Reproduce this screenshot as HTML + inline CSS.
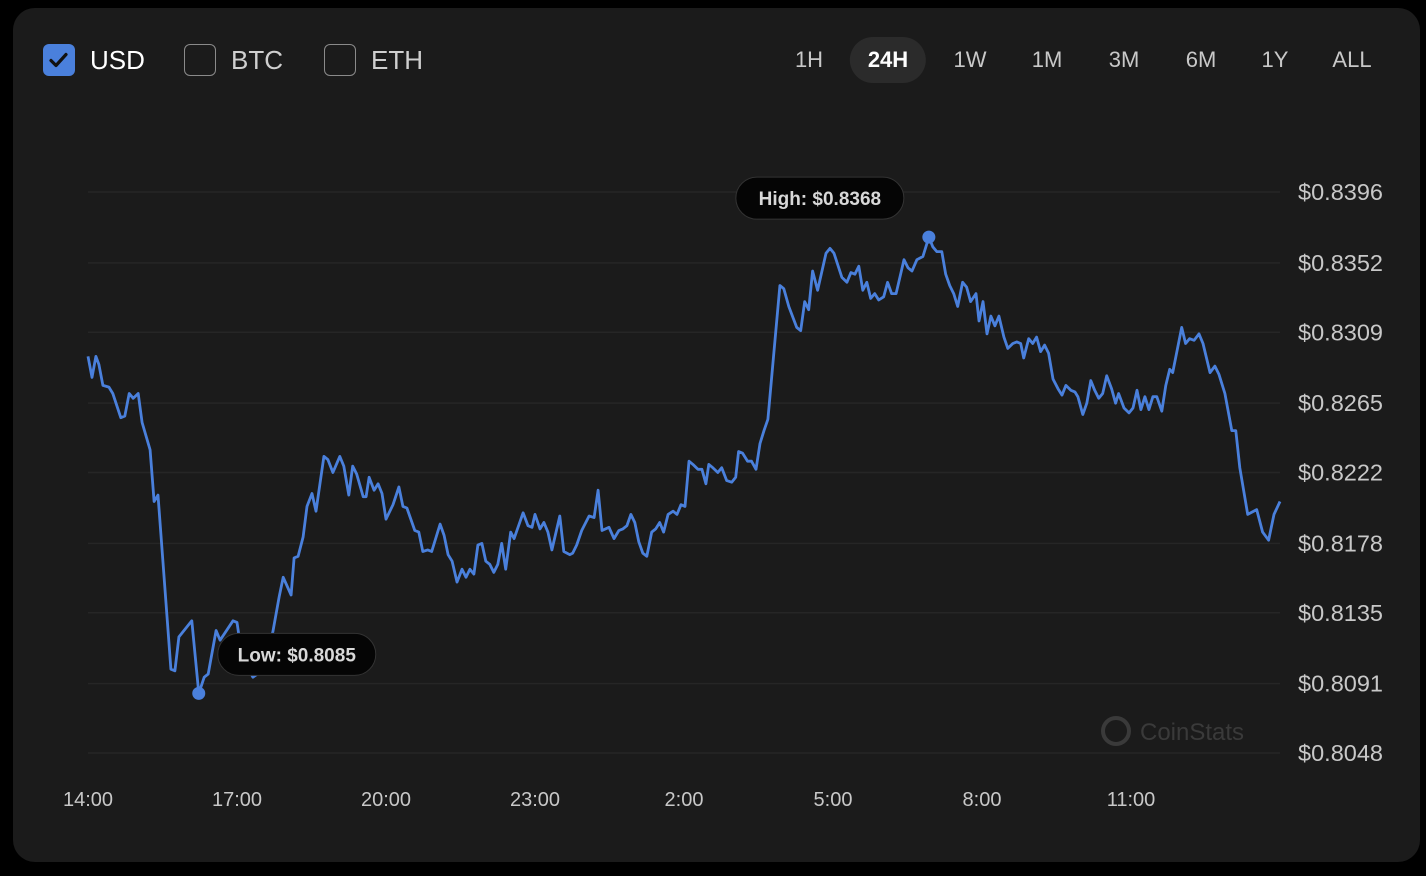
<!DOCTYPE html>
<html><head><meta charset="utf-8"><style>
html,body{margin:0;padding:0;background:#000;width:1426px;height:876px;overflow:hidden;font-family:"Liberation Sans",sans-serif}
#card{position:absolute;left:13px;top:8px;width:1407px;height:854px;background:#1b1b1b;border-radius:22px}
.cb{position:absolute;top:44px;width:30px;height:30px;border:1.5px solid #8a8a8a;border-radius:6px;box-sizing:border-box}
.cbl{position:absolute;top:44px;font-size:26px;color:#cfcfcf;line-height:32px}
.tb{position:absolute;top:37px;height:46px;line-height:46px;font-size:22px;color:#c8c8c8;text-align:center;transform:translateX(-50%);padding:0 18px;border-radius:23px}
</style></head><body>
<div id="card"></div>
<div class="cb" style="left:43px;background:#4a80dc;border:none;width:32px;height:32px">
<svg width="32" height="32" viewBox="0 0 32 32"><path d="M8 16.5l5 5 10-11" stroke="#111" stroke-width="3.2" fill="none" stroke-linecap="round" stroke-linejoin="round"/></svg></div>
<div class="cbl" style="left:90px;color:#fff">USD</div>
<div class="cb" style="left:184px;width:32px;height:32px"></div>
<div class="cbl" style="left:231px">BTC</div>
<div class="cb" style="left:324px;width:32px;height:32px"></div>
<div class="cbl" style="left:371px">ETH</div>
<div class="tb" style="left:809px">1H</div>
<div class="tb" style="left:888px;background:#2b2b2b;color:#fff;font-weight:bold">24H</div>
<div class="tb" style="left:970px">1W</div>
<div class="tb" style="left:1047px">1M</div>
<div class="tb" style="left:1124px">3M</div>
<div class="tb" style="left:1201px">6M</div>
<div class="tb" style="left:1275px">1Y</div>
<div class="tb" style="left:1352px">ALL</div>
<svg id="chart" width="1426" height="876" style="position:absolute;left:0;top:0">
<g>
<circle cx="1116" cy="731" r="13" fill="none" stroke="#3a3a3a" stroke-width="4"/>
<text x="1140" y="740" fill="#3a3a3a" font-size="24" font-family="Liberation Sans">CoinStats</text></g>
</svg>
<script>
const times=[0,0.08,0.16,0.22,0.30,0.42,0.50,0.66,0.74,0.83,0.91,1.01,1.09,1.25,1.33,1.41,1.67,1.75,1.83,2.09,2.23,2.34,2.42,2.58,2.66,2.92,3.00,3.10,3.32,3.46,3.72,3.85,3.93,4.09,4.15,4.23,4.33,4.41,4.51,4.59,4.75,4.83,4.93,5.07,5.15,5.25,5.33,5.41,5.54,5.60,5.66,5.76,5.84,5.92,6.00,6.14,6.26,6.34,6.42,6.58,6.66,6.74,6.84,6.92,7.09,7.17,7.25,7.33,7.43,7.53,7.61,7.69,7.77,7.85,7.93,8.01,8.09,8.17,8.25,8.33,8.41,8.51,8.58,8.76,8.86,8.94,9.00,9.10,9.18,9.26,9.34,9.50,9.58,9.70,9.76,9.84,9.94,10.09,10.19,10.27,10.35,10.49,10.59,10.69,10.77,10.85,10.93,11.01,11.09,11.17,11.25,11.35,11.43,11.51,11.59,11.68,11.78,11.86,11.94,12.02,12.10,12.18,12.28,12.36,12.44,12.50,12.58,12.68,12.76,12.86,12.96,13.04,13.10,13.18,13.28,13.36,13.45,13.53,13.61,13.69,13.93,14.01,14.11,14.27,14.35,14.43,14.51,14.59,14.69,14.86,14.94,15.02,15.18,15.28,15.36,15.44,15.52,15.60,15.68,15.76,15.84,15.92,16.02,16.10,16.18,16.27,16.43,16.51,16.59,16.69,16.81,16.93,17.01,17.09,17.19,17.27,17.35,17.43,17.51,17.61,17.69,17.77,17.88,17.94,18.02,18.10,18.18,18.26,18.34,18.44,18.52,18.62,18.70,18.78,18.84,18.94,19.02,19.10,19.18,19.26,19.34,19.43,19.53,19.61,19.69,19.79,19.87,19.93,20.03,20.11,20.19,20.27,20.35,20.43,20.51,20.61,20.69,20.75,20.86,20.96,21.04,21.12,21.20,21.28,21.36,21.44,21.52,21.62,21.70,21.78,21.84,22.02,22.10,22.18,22.27,22.37,22.45,22.59,22.69,22.77,22.89,23.03,23.11,23.19,23.35,23.53,23.65,23.77,23.88,24.00];
const prices=[0.8294,0.8281,0.8294,0.8289,0.8276,0.8275,0.8271,0.8256,0.8257,0.8271,0.8268,0.8271,0.8253,0.8236,0.8204,0.8208,0.8100,0.8099,0.8120,0.8130,0.8085,0.8095,0.8097,0.8124,0.8118,0.8130,0.8129,0.8108,0.8095,0.8098,0.8123,0.8145,0.8157,0.8146,0.8169,0.8170,0.8182,0.8201,0.8209,0.8198,0.8232,0.8230,0.8222,0.8232,0.8226,0.8208,0.8226,0.8221,0.8207,0.8207,0.8219,0.8211,0.8215,0.8209,0.8193,0.8202,0.8213,0.8201,0.8200,0.8186,0.8185,0.8173,0.8174,0.8173,0.8190,0.8183,0.8171,0.8167,0.8154,0.8162,0.8157,0.8162,0.8159,0.8177,0.8178,0.8167,0.8165,0.8160,0.8165,0.8178,0.8162,0.8185,0.8181,0.8197,0.8189,0.8188,0.8196,0.8187,0.8191,0.8185,0.8174,0.8195,0.8173,0.8171,0.8172,0.8177,0.8186,0.8195,0.8194,0.8211,0.8186,0.8188,0.8181,0.8186,0.8187,0.8189,0.8196,0.8191,0.8179,0.8172,0.8170,0.8185,0.8187,0.8191,0.8185,0.8196,0.8198,0.8196,0.8202,0.8201,0.8229,0.8227,0.8224,0.8224,0.8215,0.8227,0.8225,0.8222,0.8225,0.8217,0.8216,0.8219,0.8235,0.8234,0.8229,0.8229,0.8224,0.8240,0.8248,0.8255,0.8338,0.8336,0.8325,0.8312,0.8310,0.8328,0.8323,0.8347,0.8335,0.8358,0.8361,0.8358,0.8343,0.8340,0.8346,0.8345,0.8350,0.8335,0.8340,0.8330,0.8333,0.8329,0.8331,0.8340,0.8333,0.8333,0.8354,0.8349,0.8347,0.8354,0.8356,0.8368,0.8362,0.8359,0.8359,0.8345,0.8338,0.8333,0.8325,0.8340,0.8337,0.8328,0.8333,0.8316,0.8328,0.8308,0.8319,0.8313,0.8319,0.8306,0.8299,0.8302,0.8303,0.8302,0.8293,0.8305,0.8302,0.8306,0.8297,0.8301,0.8296,0.8280,0.8274,0.8270,0.8276,0.8273,0.8272,0.8269,0.8258,0.8265,0.8279,0.8273,0.8268,0.8271,0.8282,0.8274,0.8265,0.8271,0.8262,0.8259,0.8262,0.8273,0.8261,0.8269,0.8261,0.8269,0.8269,0.8260,0.8276,0.8286,0.8284,0.8312,0.8302,0.8305,0.8304,0.8308,0.8302,0.8284,0.8288,0.8283,0.8271,0.8248,0.8248,0.8225,0.8196,0.8199,0.8185,0.8180,0.8196,0.8204];
const yTicks=[0.8396,0.8352,0.8309,0.8265,0.8222,0.8178,0.8135,0.8091,0.8048];
const xTickHours=[0,3,6,9,12,15,18,21];
const xTickLabels=["14:00","17:00","20:00","23:00","2:00","5:00","8:00","11:00"];
const NS="http://www.w3.org/2000/svg";
const svg=document.getElementById('chart');
const X0=88,X1=1280,Y0=192,Y1=753,PMAX=0.8396,PMIN=0.8048;
const xs=t=>X0+(t/24)*(X1-X0);
const ys=p=>Y0+(PMAX-p)/(PMAX-PMIN)*(Y1-Y0);
function mk(tag,attrs){const e=document.createElementNS(NS,tag);for(const k in attrs)e.setAttribute(k,attrs[k]);svg.appendChild(e);return e;}
yTicks.forEach(v=>{
 const l=mk('line',{x1:X0,x2:1280,y1:ys(v),y2:ys(v),stroke:'#262626','stroke-width':1.5});
 
 
 const t=mk('text',{x:1383,y:ys(v)+8,'text-anchor':'end',fill:'#c8c8c8','font-size':23.5,'font-family':'Liberation Sans'});
 t.textContent='$'+v.toFixed(4);
 
 
});
xTickHours.forEach((h,i)=>{
 const t=mk('text',{x:xs(h),y:806,'text-anchor':'middle',fill:'#c8c8c8','font-size':20,'font-family':'Liberation Sans'});
 t.textContent=xTickLabels[i];
 
 
});
let d='';times.forEach((t,i)=>{d+=(i?'L':'M')+xs(t).toFixed(1)+' '+ys(prices[i]).toFixed(1);});
const line=mk('path',{d:d,fill:'none',stroke:'#4a80dc','stroke-width':2.8,'stroke-linejoin':'round'});


let hi=0,lo=0;prices.forEach((p,i)=>{if(p>prices[hi])hi=i;if(p<prices[lo])lo=i;});
function tip(i,label,left,name){
 const px=xs(times[i]),py=ys(prices[i]);
 const dot=mk('circle',{cx:px,cy:py,r:6.5,fill:'#4a80dc'});
 
 
 const w=label.length*10+38,h=42;
 let bx,by;
 if(left){bx=px-25-w;by=py-60;}else{bx=px+19;by=py-60;}
 const r=mk('rect',{x:bx,y:by,width:w,height:h,rx:21,fill:'#050505',stroke:'#333','stroke-width':1});
 
 
 const t=mk('text',{x:bx+w/2,y:by+28,'text-anchor':'middle',fill:'#d8d8d8','font-size':19,'font-weight':'bold','font-family':'Liberation Sans'});
 t.textContent=label;
 
 
}
tip(hi,'High: $'+prices[hi].toFixed(4),true,'high');
tip(lo,'Low: $'+prices[lo].toFixed(4),false,'low');
</script>
</body></html>
